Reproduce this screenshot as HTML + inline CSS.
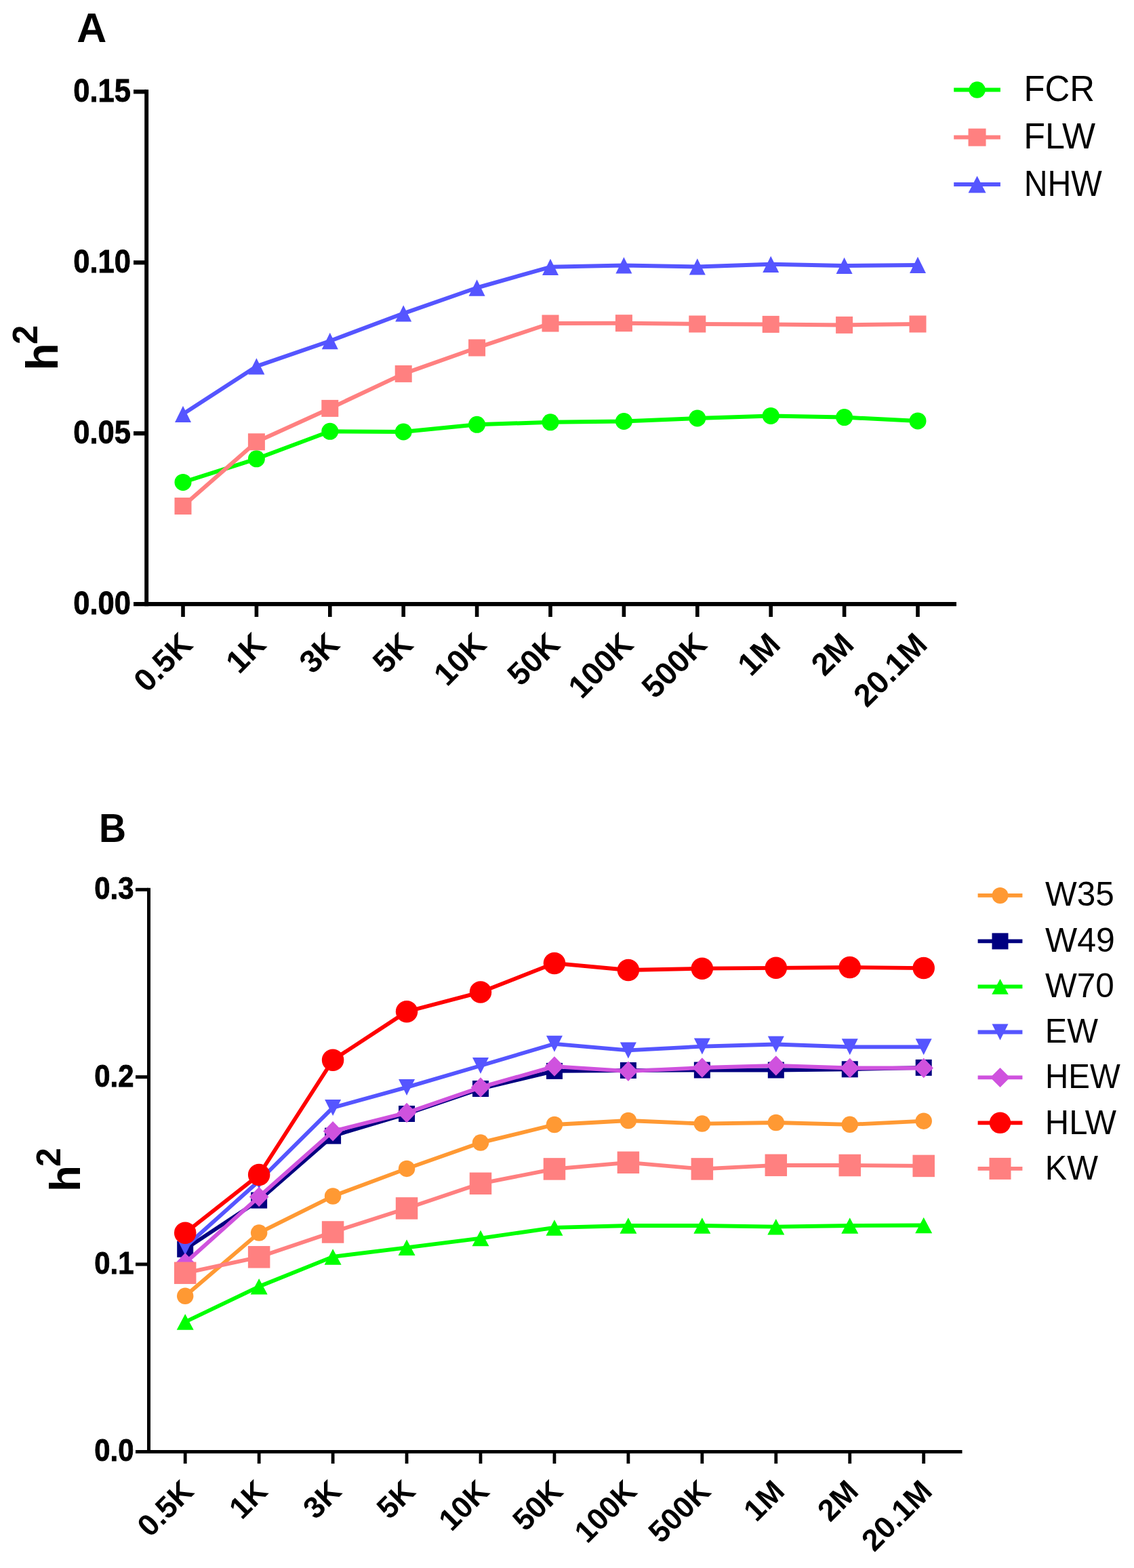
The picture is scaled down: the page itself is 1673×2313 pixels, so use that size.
<!DOCTYPE html><html><head><meta charset="utf-8"><title>Heritability by SNP number</title><style>html,body{margin:0;padding:0;background:#fff;}body{width:1673px;height:2313px;overflow:hidden;}svg{display:block;}text{font-family:"Liberation Sans", Arial, sans-serif;fill:#000;}.b{font-weight:bold;}</style></head><body>
<svg width="1673" height="2313" viewBox="0 0 1673 2313">
<rect width="1673" height="2313" fill="#fff"/>
<g fill="#000">
<rect x="213.2" y="132.2" width="5.9" height="762"/>
<rect x="197" y="888" width="1214" height="6.2"/>
<rect x="197" y="132.2" width="19" height="6.2"/>
<rect x="197" y="384.2" width="19" height="6.2"/>
<rect x="197" y="636.2" width="19" height="6.2"/>
<rect x="267.2" y="891" width="5.6" height="19"/>
<rect x="375.6" y="891" width="5.6" height="19"/>
<rect x="484" y="891" width="5.6" height="19"/>
<rect x="592.4" y="891" width="5.6" height="19"/>
<rect x="700.8" y="891" width="5.6" height="19"/>
<rect x="809.2" y="891" width="5.6" height="19"/>
<rect x="917.6" y="891" width="5.6" height="19"/>
<rect x="1026" y="891" width="5.6" height="19"/>
<rect x="1134.4" y="891" width="5.6" height="19"/>
<rect x="1242.8" y="891" width="5.6" height="19"/>
<rect x="1351.2" y="891" width="5.6" height="19"/>
</g>
<text class="b" font-size="48.8" text-anchor="end" stroke="#000" stroke-width="0.9" transform="translate(192.9,150.2) scale(0.89,1)">0.15</text>
<text class="b" font-size="48.8" text-anchor="end" stroke="#000" stroke-width="0.9" transform="translate(192.9,402.2) scale(0.89,1)">0.10</text>
<text class="b" font-size="48.8" text-anchor="end" stroke="#000" stroke-width="0.9" transform="translate(192.9,654.2) scale(0.89,1)">0.05</text>
<text class="b" font-size="48.8" text-anchor="end" stroke="#000" stroke-width="0.9" transform="translate(192.9,906.2) scale(0.89,1)">0.00</text>
<text class="b" font-size="46.8" text-anchor="end" transform="translate(286.6,953.4) rotate(-45)">0.5K</text>
<text class="b" font-size="46.8" text-anchor="end" transform="translate(395,953.4) rotate(-45)">1K</text>
<text class="b" font-size="46.8" text-anchor="end" transform="translate(503.4,953.4) rotate(-45)">3K</text>
<text class="b" font-size="46.8" text-anchor="end" transform="translate(611.8,953.4) rotate(-45)">5K</text>
<text class="b" font-size="46.8" text-anchor="end" transform="translate(720.2,953.4) rotate(-45)">10K</text>
<text class="b" font-size="46.8" text-anchor="end" transform="translate(828.6,953.4) rotate(-45)">50K</text>
<text class="b" font-size="46.8" text-anchor="end" transform="translate(937,953.4) rotate(-45)">100K</text>
<text class="b" font-size="46.8" text-anchor="end" transform="translate(1045.4,953.4) rotate(-45)">500K</text>
<text class="b" font-size="46.8" text-anchor="end" transform="translate(1153.8,953.4) rotate(-45)">1M</text>
<text class="b" font-size="46.8" text-anchor="end" transform="translate(1262.2,953.4) rotate(-45)">2M</text>
<text class="b" font-size="46.8" text-anchor="end" transform="translate(1370.6,953.4) rotate(-45)">20.1M</text>
<text class="b" x="113.3" y="61.8" font-size="61">A</text>
<text class="b" transform="translate(84.9,546.4) rotate(-90)" font-size="66">h<tspan font-size="51" dx="-1.8" dy="-29.8">2</tspan></text>
<polyline points="270,711.4 378.4,676.8 486.8,636.3 595.2,637 703.6,626.3 812,622.8 920.4,621.5 1028.8,617 1137.2,613.4 1245.6,615.6 1354,620.9" fill="none" stroke="#00FF00" stroke-width="6" stroke-linejoin="round"/><circle cx="270" cy="711.4" r="12.5" fill="#00FF00"/><circle cx="378.4" cy="676.8" r="12.5" fill="#00FF00"/><circle cx="486.8" cy="636.3" r="12.5" fill="#00FF00"/><circle cx="595.2" cy="637" r="12.5" fill="#00FF00"/><circle cx="703.6" cy="626.3" r="12.5" fill="#00FF00"/><circle cx="812" cy="622.8" r="12.5" fill="#00FF00"/><circle cx="920.4" cy="621.5" r="12.5" fill="#00FF00"/><circle cx="1028.8" cy="617" r="12.5" fill="#00FF00"/><circle cx="1137.2" cy="613.4" r="12.5" fill="#00FF00"/><circle cx="1245.6" cy="615.6" r="12.5" fill="#00FF00"/><circle cx="1354" cy="620.9" r="12.5" fill="#00FF00"/>
<polyline points="270,746.5 378.4,651.8 486.8,602.4 595.2,551.4 703.6,513 812,477 920.4,476.7 1028.8,478 1137.2,478.4 1245.6,479.4 1354,478" fill="none" stroke="#FF8080" stroke-width="6" stroke-linejoin="round"/><rect x="257.5" y="734" width="25" height="25" fill="#FF8080"/><rect x="365.9" y="639.3" width="25" height="25" fill="#FF8080"/><rect x="474.3" y="589.9" width="25" height="25" fill="#FF8080"/><rect x="582.7" y="538.9" width="25" height="25" fill="#FF8080"/><rect x="691.1" y="500.5" width="25" height="25" fill="#FF8080"/><rect x="799.5" y="464.5" width="25" height="25" fill="#FF8080"/><rect x="907.9" y="464.2" width="25" height="25" fill="#FF8080"/><rect x="1016.3" y="465.5" width="25" height="25" fill="#FF8080"/><rect x="1124.7" y="465.9" width="25" height="25" fill="#FF8080"/><rect x="1233.1" y="466.9" width="25" height="25" fill="#FF8080"/><rect x="1341.5" y="465.5" width="25" height="25" fill="#FF8080"/>
<polyline points="270,610.8 378.4,540.4 486.8,503 595.2,462.3 703.6,424.5 812,393.8 920.4,391.4 1028.8,393.4 1137.2,389.8 1245.6,391.9 1354,390.9" fill="none" stroke="#5555FF" stroke-width="6" stroke-linejoin="round"/><polygon points="270,598.65 282,622.95 258,622.95" fill="#5555FF"/><polygon points="378.4,528.25 390.4,552.55 366.4,552.55" fill="#5555FF"/><polygon points="486.8,490.85 498.8,515.15 474.8,515.15" fill="#5555FF"/><polygon points="595.2,450.15 607.2,474.45 583.2,474.45" fill="#5555FF"/><polygon points="703.6,412.35 715.6,436.65 691.6,436.65" fill="#5555FF"/><polygon points="812,381.65 824,405.95 800,405.95" fill="#5555FF"/><polygon points="920.4,379.25 932.4,403.55 908.4,403.55" fill="#5555FF"/><polygon points="1028.8,381.25 1040.8,405.55 1016.8,405.55" fill="#5555FF"/><polygon points="1137.2,377.65 1149.2,401.95 1125.2,401.95" fill="#5555FF"/><polygon points="1245.6,379.75 1257.6,404.05 1233.6,404.05" fill="#5555FF"/><polygon points="1354,378.75 1366,403.05 1342,403.05" fill="#5555FF"/>
<line x1="1407.2" y1="132.6" x2="1475.9" y2="132.6" stroke="#00FF00" stroke-width="6"/><circle cx="1441.55" cy="132.6" r="12.25" fill="#00FF00"/><text font-size="53" transform="translate(1510.45,149.4) scale(0.96,1)">FCR</text>
<line x1="1407.2" y1="202.6" x2="1475.9" y2="202.6" stroke="#FF8080" stroke-width="6"/><rect x="1428.55" y="189.6" width="26" height="26" fill="#FF8080"/><text font-size="53" transform="translate(1510.37,219.4) scale(0.98,1)">FLW</text>
<line x1="1407.2" y1="272" x2="1475.9" y2="272" stroke="#5555FF" stroke-width="6"/><polygon points="1441.55,259.5 1454.55,284.5 1428.55,284.5" fill="#5555FF"/><text font-size="53" transform="translate(1510.68,288.8) scale(0.91,1)">NHW</text>
<g fill="#000">
<rect x="217" y="1309.8" width="5" height="834.1"/>
<rect x="200" y="2139" width="1219.5" height="5"/>
<rect x="200" y="1309.8" width="19" height="5"/>
<rect x="200" y="1586.2" width="19" height="5"/>
<rect x="200" y="1862.5" width="19" height="5"/>
<rect x="270.8" y="2141" width="4.8" height="18"/>
<rect x="379.75" y="2141" width="4.8" height="18"/>
<rect x="488.7" y="2141" width="4.8" height="18"/>
<rect x="597.65" y="2141" width="4.8" height="18"/>
<rect x="706.6" y="2141" width="4.8" height="18"/>
<rect x="815.55" y="2141" width="4.8" height="18"/>
<rect x="924.5" y="2141" width="4.8" height="18"/>
<rect x="1033.45" y="2141" width="4.8" height="18"/>
<rect x="1142.4" y="2141" width="4.8" height="18"/>
<rect x="1251.35" y="2141" width="4.8" height="18"/>
<rect x="1360.3" y="2141" width="4.8" height="18"/>
</g>
<text class="b" font-size="45.5" text-anchor="end" stroke="#000" stroke-width="0.9" transform="translate(197.5,1326.2) scale(0.92,1)">0.3</text>
<text class="b" font-size="45.5" text-anchor="end" stroke="#000" stroke-width="0.9" transform="translate(197.5,1602.6) scale(0.92,1)">0.2</text>
<text class="b" font-size="45.5" text-anchor="end" stroke="#000" stroke-width="0.9" transform="translate(197.5,1878.9) scale(0.92,1)">0.1</text>
<text class="b" font-size="45.5" text-anchor="end" stroke="#000" stroke-width="0.9" transform="translate(197.5,2155.3) scale(0.92,1)">0.0</text>
<text class="b" font-size="44.8" text-anchor="end" transform="translate(288.25,2202.4) rotate(-45)">0.5K</text>
<text class="b" font-size="44.8" text-anchor="end" transform="translate(397.2,2202.4) rotate(-45)">1K</text>
<text class="b" font-size="44.8" text-anchor="end" transform="translate(506.15,2202.4) rotate(-45)">3K</text>
<text class="b" font-size="44.8" text-anchor="end" transform="translate(615.1,2202.4) rotate(-45)">5K</text>
<text class="b" font-size="44.8" text-anchor="end" transform="translate(724.05,2202.4) rotate(-45)">10K</text>
<text class="b" font-size="44.8" text-anchor="end" transform="translate(833,2202.4) rotate(-45)">50K</text>
<text class="b" font-size="44.8" text-anchor="end" transform="translate(941.95,2202.4) rotate(-45)">100K</text>
<text class="b" font-size="44.8" text-anchor="end" transform="translate(1050.9,2202.4) rotate(-45)">500K</text>
<text class="b" font-size="44.8" text-anchor="end" transform="translate(1159.85,2202.4) rotate(-45)">1M</text>
<text class="b" font-size="44.8" text-anchor="end" transform="translate(1268.8,2202.4) rotate(-45)">2M</text>
<text class="b" font-size="44.8" text-anchor="end" transform="translate(1377.75,2202.4) rotate(-45)">20.1M</text>
<text class="b" font-size="59.3" transform="translate(145.9,1241.8) scale(0.937,1)">B</text>
<text class="b" transform="translate(118.1,1757.9) rotate(-90)" font-size="63.6">h<tspan font-size="50" dx="-2" dy="-29">2</tspan></text>
<polyline points="273.2,1911.8 382.15,1818.6 491.1,1764.5 600.05,1723.9 709,1685.6 817.95,1659 926.9,1653 1035.85,1657.6 1144.8,1656 1253.75,1658.8 1362.7,1653.7" fill="none" stroke="#FF9933" stroke-width="5.8" stroke-linejoin="round"/><circle cx="273.2" cy="1911.8" r="12.25" fill="#FF9933"/><circle cx="382.15" cy="1818.6" r="12.25" fill="#FF9933"/><circle cx="491.1" cy="1764.5" r="12.25" fill="#FF9933"/><circle cx="600.05" cy="1723.9" r="12.25" fill="#FF9933"/><circle cx="709" cy="1685.6" r="12.25" fill="#FF9933"/><circle cx="817.95" cy="1659" r="12.25" fill="#FF9933"/><circle cx="926.9" cy="1653" r="12.25" fill="#FF9933"/><circle cx="1035.85" cy="1657.6" r="12.25" fill="#FF9933"/><circle cx="1144.8" cy="1656" r="12.25" fill="#FF9933"/><circle cx="1253.75" cy="1658.8" r="12.25" fill="#FF9933"/><circle cx="1362.7" cy="1653.7" r="12.25" fill="#FF9933"/>
<polyline points="273.2,1842.7 382.15,1770.6 491.1,1675.6 600.05,1643 709,1606 817.95,1579.9 926.9,1579 1035.85,1578.5 1144.8,1578.5 1253.75,1577.3 1362.7,1574.9" fill="none" stroke="#000080" stroke-width="5.8" stroke-linejoin="round"/><rect x="261.2" y="1830.7" width="24" height="24" fill="#000080"/><rect x="370.15" y="1758.6" width="24" height="24" fill="#000080"/><rect x="479.1" y="1663.6" width="24" height="24" fill="#000080"/><rect x="588.05" y="1631" width="24" height="24" fill="#000080"/><rect x="697" y="1594" width="24" height="24" fill="#000080"/><rect x="805.95" y="1567.9" width="24" height="24" fill="#000080"/><rect x="914.9" y="1567" width="24" height="24" fill="#000080"/><rect x="1023.85" y="1566.5" width="24" height="24" fill="#000080"/><rect x="1132.8" y="1566.5" width="24" height="24" fill="#000080"/><rect x="1241.75" y="1565.3" width="24" height="24" fill="#000080"/><rect x="1350.7" y="1562.9" width="24" height="24" fill="#000080"/>
<polyline points="273.2,1950 382.15,1897.8 491.1,1853.9 600.05,1840.3 709,1826.6 817.95,1810.9 926.9,1808 1035.85,1808 1144.8,1809.7 1253.75,1808 1362.7,1807.5" fill="none" stroke="#00FF00" stroke-width="5.8" stroke-linejoin="round"/><polygon points="273.2,1938.25 285.7,1961.75 260.7,1961.75" fill="#00FF00"/><polygon points="382.15,1886.05 394.65,1909.55 369.65,1909.55" fill="#00FF00"/><polygon points="491.1,1842.15 503.6,1865.65 478.6,1865.65" fill="#00FF00"/><polygon points="600.05,1828.55 612.55,1852.05 587.55,1852.05" fill="#00FF00"/><polygon points="709,1814.85 721.5,1838.35 696.5,1838.35" fill="#00FF00"/><polygon points="817.95,1799.15 830.45,1822.65 805.45,1822.65" fill="#00FF00"/><polygon points="926.9,1796.25 939.4,1819.75 914.4,1819.75" fill="#00FF00"/><polygon points="1035.85,1796.25 1048.35,1819.75 1023.35,1819.75" fill="#00FF00"/><polygon points="1144.8,1797.95 1157.3,1821.45 1132.3,1821.45" fill="#00FF00"/><polygon points="1253.75,1796.25 1266.25,1819.75 1241.25,1819.75" fill="#00FF00"/><polygon points="1362.7,1795.75 1375.2,1819.25 1350.2,1819.25" fill="#00FF00"/>
<polyline points="273.2,1839.5 382.15,1742 491.1,1633.9 600.05,1603.9 709,1572 817.95,1539.8 926.9,1549.4 1035.85,1543.6 1144.8,1540.5 1253.75,1544.3 1362.7,1544.3" fill="none" stroke="#5555FF" stroke-width="5.8" stroke-linejoin="round"/><polygon points="273.2,1851.5 285.2,1827.5 261.2,1827.5" fill="#5555FF"/><polygon points="382.15,1754 394.15,1730 370.15,1730" fill="#5555FF"/><polygon points="491.1,1645.9 503.1,1621.9 479.1,1621.9" fill="#5555FF"/><polygon points="600.05,1615.9 612.05,1591.9 588.05,1591.9" fill="#5555FF"/><polygon points="709,1584 721,1560 697,1560" fill="#5555FF"/><polygon points="817.95,1551.8 829.95,1527.8 805.95,1527.8" fill="#5555FF"/><polygon points="926.9,1561.4 938.9,1537.4 914.9,1537.4" fill="#5555FF"/><polygon points="1035.85,1555.6 1047.85,1531.6 1023.85,1531.6" fill="#5555FF"/><polygon points="1144.8,1552.5 1156.8,1528.5 1132.8,1528.5" fill="#5555FF"/><polygon points="1253.75,1556.3 1265.75,1532.3 1241.75,1532.3" fill="#5555FF"/><polygon points="1362.7,1556.3 1374.7,1532.3 1350.7,1532.3" fill="#5555FF"/>
<polyline points="273.2,1863 382.15,1765.4 491.1,1668.8 600.05,1641.4 709,1603.9 817.95,1573.1 926.9,1580.2 1035.85,1575 1144.8,1571.9 1253.75,1575.5 1362.7,1575.5" fill="none" stroke="#CF52DE" stroke-width="5.8" stroke-linejoin="round"/><polygon points="273.2,1848.25 287.45,1863 273.2,1877.75 258.95,1863" fill="#CF52DE"/><polygon points="382.15,1750.65 396.4,1765.4 382.15,1780.15 367.9,1765.4" fill="#CF52DE"/><polygon points="491.1,1654.05 505.35,1668.8 491.1,1683.55 476.85,1668.8" fill="#CF52DE"/><polygon points="600.05,1626.65 614.3,1641.4 600.05,1656.15 585.8,1641.4" fill="#CF52DE"/><polygon points="709,1589.15 723.25,1603.9 709,1618.65 694.75,1603.9" fill="#CF52DE"/><polygon points="817.95,1558.35 832.2,1573.1 817.95,1587.85 803.7,1573.1" fill="#CF52DE"/><polygon points="926.9,1565.45 941.15,1580.2 926.9,1594.95 912.65,1580.2" fill="#CF52DE"/><polygon points="1035.85,1560.25 1050.1,1575 1035.85,1589.75 1021.6,1575" fill="#CF52DE"/><polygon points="1144.8,1557.15 1159.05,1571.9 1144.8,1586.65 1130.55,1571.9" fill="#CF52DE"/><polygon points="1253.75,1560.75 1268,1575.5 1253.75,1590.25 1239.5,1575.5" fill="#CF52DE"/><polygon points="1362.7,1560.75 1376.95,1575.5 1362.7,1590.25 1348.45,1575.5" fill="#CF52DE"/>
<polyline points="273.2,1818.8 382.15,1733 491.1,1563.7 600.05,1492.3 709,1463.6 817.95,1420.9 926.9,1431 1035.85,1428.7 1144.8,1427.8 1253.75,1427 1362.7,1428.1" fill="none" stroke="#FF0000" stroke-width="5.8" stroke-linejoin="round"/><circle cx="273.2" cy="1818.8" r="16.25" fill="#FF0000"/><circle cx="382.15" cy="1733" r="16.25" fill="#FF0000"/><circle cx="491.1" cy="1563.7" r="16.25" fill="#FF0000"/><circle cx="600.05" cy="1492.3" r="16.25" fill="#FF0000"/><circle cx="709" cy="1463.6" r="16.25" fill="#FF0000"/><circle cx="817.95" cy="1420.9" r="16.25" fill="#FF0000"/><circle cx="926.9" cy="1431" r="16.25" fill="#FF0000"/><circle cx="1035.85" cy="1428.7" r="16.25" fill="#FF0000"/><circle cx="1144.8" cy="1427.8" r="16.25" fill="#FF0000"/><circle cx="1253.75" cy="1427" r="16.25" fill="#FF0000"/><circle cx="1362.7" cy="1428.1" r="16.25" fill="#FF0000"/>
<polyline points="273.2,1877.8 382.15,1854.3 491.1,1817.5 600.05,1782.4 709,1745.8 817.95,1724.4 926.9,1714.8 1035.85,1724.4 1144.8,1718.8 1253.75,1719 1362.7,1719.9" fill="none" stroke="#FF8080" stroke-width="5.8" stroke-linejoin="round"/><rect x="256.95" y="1861.55" width="32.5" height="32.5" fill="#FF8080"/><rect x="365.9" y="1838.05" width="32.5" height="32.5" fill="#FF8080"/><rect x="474.85" y="1801.25" width="32.5" height="32.5" fill="#FF8080"/><rect x="583.8" y="1766.15" width="32.5" height="32.5" fill="#FF8080"/><rect x="692.75" y="1729.55" width="32.5" height="32.5" fill="#FF8080"/><rect x="801.7" y="1708.15" width="32.5" height="32.5" fill="#FF8080"/><rect x="910.65" y="1698.55" width="32.5" height="32.5" fill="#FF8080"/><rect x="1019.6" y="1708.15" width="32.5" height="32.5" fill="#FF8080"/><rect x="1128.55" y="1702.55" width="32.5" height="32.5" fill="#FF8080"/><rect x="1237.5" y="1702.75" width="32.5" height="32.5" fill="#FF8080"/><rect x="1346.45" y="1703.65" width="32.5" height="32.5" fill="#FF8080"/>
<line x1="1442.6" y1="1320.9" x2="1508.4" y2="1320.9" stroke="#FF9933" stroke-width="5.8"/><circle cx="1475.5" cy="1320.9" r="12" fill="#FF9933"/><text font-size="50.5" transform="translate(1542,1335.8) scale(0.98,1)">W35</text>
<line x1="1442.6" y1="1388.4" x2="1508.4" y2="1388.4" stroke="#000080" stroke-width="5.8"/><rect x="1463.5" y="1376.4" width="24" height="24" fill="#000080"/><text font-size="50.5" transform="translate(1542,1403.8) scale(0.99,1)">W49</text>
<line x1="1442.6" y1="1455.4" x2="1508.4" y2="1455.4" stroke="#00FF00" stroke-width="5.8"/><polygon points="1475.5,1444.1 1487.75,1466.7 1463.25,1466.7" fill="#00FF00"/><text font-size="50.5" transform="translate(1542,1470.9) scale(0.98,1)">W70</text>
<line x1="1442.6" y1="1522.5" x2="1508.4" y2="1522.5" stroke="#5555FF" stroke-width="5.8"/><polygon points="1475.5,1534.5 1487.5,1510.5 1463.5,1510.5" fill="#5555FF"/><text font-size="50.5" transform="translate(1541.85,1537.9) scale(0.96,1)">EW</text>
<line x1="1442.6" y1="1589.4" x2="1508.4" y2="1589.4" stroke="#CF52DE" stroke-width="5.8"/><polygon points="1475.5,1574.9 1487.5,1586.9 1487.5,1591.9 1475.5,1603.9 1463.5,1591.9 1463.5,1586.9" fill="#CF52DE"/><text font-size="50.5" transform="translate(1541.95,1604.9) scale(0.94,1)">HEW</text>
<line x1="1442.6" y1="1656.3" x2="1508.4" y2="1656.3" stroke="#FF0000" stroke-width="5.8"/><circle cx="1475.5" cy="1656.3" r="15.75" fill="#FF0000"/><text font-size="50.5" transform="translate(1541.84,1672.9) scale(0.97,1)">HLW</text>
<line x1="1442.6" y1="1723.9" x2="1508.4" y2="1723.9" stroke="#FF8080" stroke-width="5.8"/><rect x="1459.5" y="1707.9" width="32" height="32" fill="#FF8080"/><text font-size="50.5" transform="translate(1541.85,1740) scale(0.96,1)">KW</text>
</svg></body></html>
